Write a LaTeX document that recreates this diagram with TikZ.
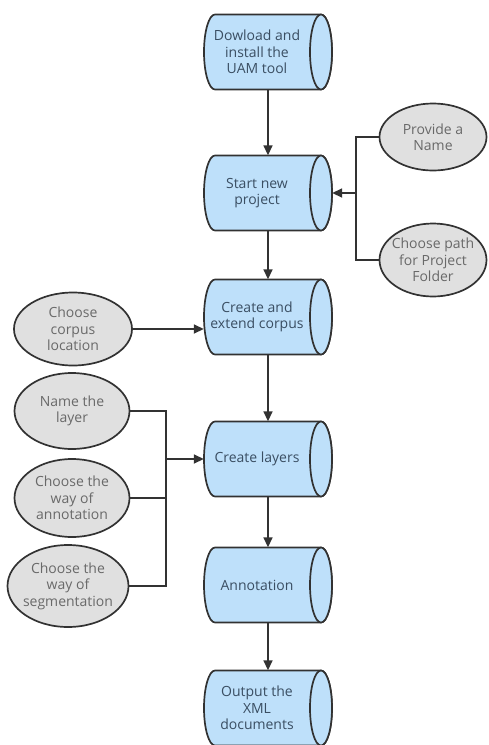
\documentclass[tikz,border=0pt]{standalone}
\usepackage{fontspec}
\setmainfont{Open Sans}
\usetikzlibrary{shapes.geometric,arrows.meta}
\definecolor{cylfill}{RGB}{190,224,250}
\definecolor{elfill}{RGB}{224,224,224}
\definecolor{edge}{RGB}{50,50,50}
\definecolor{cyltext}{RGB}{58,78,98}
\definecolor{eltext}{RGB}{105,105,105}
\tikzset{
  cylline/.style={draw=edge, line width=1.7pt, fill=cylfill, line join=round},
  cylbox/.style={minimum width=128pt, minimum height=75pt, inner sep=0pt},
  cyltxt/.style={align=center, text=cyltext, inner sep=0pt, xshift=-11pt,
    font=\fontsize{14}{16.5}\selectfont},
  oval/.style={ellipse, draw=edge, line width=1.7pt, fill=elfill, inner sep=0pt},
  ovaltxt/.style={align=center, text=eltext, inner sep=0pt,
    font=\fontsize{14}{16.5}\selectfont},
  conn/.style={draw=edge, line width=1.7pt},
  arr/.style={conn, -{Triangle[length=10pt,width=9pt]}}
}
\newcommand{\cylshape}[2]{%
  \draw[cylline] ({#1-53},{#2-37.5}) -- ({#1+53},{#2-37.5})
    arc[start angle=90,end angle=-90,x radius=11pt,y radius=37.5pt]
    -- ({#1-53},{#2+37.5})
    arc[start angle=270,end angle=90,x radius=11pt,y radius=37.5pt] -- cycle;
  \draw[cylline] ({#1+53},{#2}) ellipse[x radius=11pt,y radius=37.5pt];
}
\begin{document}
\begin{tikzpicture}[x=1pt,y=-1pt]
\useasboundingbox (0,0) rectangle (488,745);
\cylshape{268}{52}
\node[cylbox, label={[cyltxt]center:{Dowload and\\install the\\UAM tool}}] (dl) at (268,52) {};
\cylshape{268}{193}
\node[cylbox, label={[cyltxt]center:{Start new\\project}}] (start) at (268,193) {};
\cylshape{268}{317}
\node[cylbox, label={[cyltxt]center:{Create and\\extend corpus}}] (create) at (268,317) {};
\cylshape{268}{459}
\node[cylbox, label={[cyltxt]center:{Create layers}}] (layers) at (268,459) {};
\cylshape{268}{585}
\node[cylbox, label={[cyltxt]center:{Annotation}}] (annot) at (268,585) {};
\cylshape{268}{708}
\node[cylbox, label={[cyltxt]center:{Output the\\XML\\documents}}] (out) at (268,708) {};

\node[oval, minimum width=107pt, minimum height=67pt, label={[ovaltxt]center:{Provide a\\Name}}] (prov) at (433,137) {};
\node[oval, minimum width=107pt, minimum height=73pt, label={[ovaltxt]center:{Choose path\\for Project\\Folder}}] (path) at (433,260) {};
\node[oval, minimum width=118pt, minimum height=73pt, label={[ovaltxt]center:{Choose\\corpus\\location}}] (corp) at (73,329) {};
\node[oval, minimum width=115pt, minimum height=76pt, label={[ovaltxt]center:{Name the\\layer}}] (name) at (72,411) {};
\node[oval, minimum width=115pt, minimum height=78pt, label={[ovaltxt]center:{Choose the\\way of\\annotation}}] (way) at (72,498) {};
\node[oval, minimum width=121pt, minimum height=82pt, label={[ovaltxt]center:{Choose the\\way of\\segmentation}}] (seg) at (68,586) {};

\coordinate (j1) at (356,193);
\coordinate (j2) at (166,459);

\draw[arr] (dl) -- (start);
\draw[arr] (start) -- (create);
\draw[arr] (create) -- (layers);
\draw[arr] (layers) -- (annot);
\draw[arr] (annot) -- (out);

\draw[conn] (prov.west) -| (j1) |- (path.west);
\draw[arr] (j1) -- (start.east);
\draw[arr] (corp.east) -- (corp.east -| create.west);
\draw[conn] (name.east) -| (j2) |- (seg.east);
\draw[conn] (way.east) -- (way.east -| j2);
\draw[arr] (j2) -- (layers.west);
\end{tikzpicture}
\end{document}
